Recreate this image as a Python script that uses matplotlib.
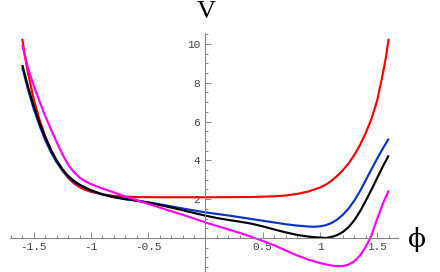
import matplotlib
matplotlib.use("Agg")
import matplotlib.pyplot as plt
from matplotlib.ticker import MultipleLocator, FixedLocator

# ---- data ----
red_phi = [-1.60, -1.575, -1.55, -1.50, -1.45, -1.40, -1.35, -1.30, -1.25, -1.20, -1.15, -1.10,
           -1.05, -1.00, -0.90, -0.80, -0.70, -0.60, -0.40, 0.00, 0.40, 0.60, 0.70, 0.80,
           0.90, 1.00, 1.05, 1.10, 1.15, 1.20, 1.25, 1.30, 1.35, 1.40, 1.45, 1.50, 1.55,
           1.575, 1.60]
red_V = [10.27, 9.3, 8.5, 7.15, 6.1, 5.25, 4.55, 3.95, 3.48, 3.1, 2.82, 2.62,
         2.48, 2.38, 2.25, 2.17, 2.13, 2.11, 2.1, 2.1, 2.11, 2.15, 2.19, 2.27,
         2.4, 2.6, 2.75, 2.95, 3.2, 3.5, 3.85, 4.28, 4.8, 5.42, 6.15, 7.1, 8.5,
         9.3, 10.27]

blue_phi = [-1.60, -1.55, -1.50, -1.45, -1.40, -1.35, -1.30, -1.25, -1.20, -1.15, -1.10, -1.05,
            -1.00, -0.90, -0.80, -0.70, -0.60, -0.50, -0.40, -0.30, -0.20, -0.10, 0.00, 0.10,
            0.20, 0.30, 0.40, 0.50, 0.60, 0.70, 0.80, 0.90, 0.95, 1.00, 1.05, 1.10, 1.15,
            1.20, 1.25, 1.30, 1.35, 1.40, 1.45, 1.50, 1.55, 1.60]
blue_V = [8.8, 7.65, 6.65, 5.8, 5.05, 4.42, 3.9, 3.48, 3.15, 2.9, 2.72, 2.57,
          2.44, 2.25, 2.11, 2.01, 1.93, 1.84, 1.74, 1.63, 1.52, 1.42, 1.32, 1.24,
          1.16, 1.07, 0.98, 0.89, 0.8, 0.71, 0.64, 0.59, 0.58, 0.6, 0.66, 0.77, 0.95,
          1.2, 1.52, 1.93, 2.42, 2.98, 3.55, 4.1, 4.63, 5.12]

black_phi = [-1.60, -1.55, -1.50, -1.45, -1.40, -1.35, -1.30, -1.25, -1.20, -1.15, -1.10, -1.05,
             -1.00, -0.90, -0.80, -0.70, -0.60, -0.50, -0.40, -0.30, -0.20, -0.10, 0.00, 0.10,
             0.20, 0.30, 0.40, 0.50, 0.60, 0.70, 0.80, 0.90, 1.00, 1.05, 1.10, 1.15, 1.20,
             1.25, 1.30, 1.35, 1.40, 1.45, 1.50, 1.55, 1.60]
black_V = [8.92, 7.8, 6.8, 5.95, 5.2, 4.55, 4.0, 3.55, 3.2, 2.95, 2.75, 2.6,
           2.46, 2.25, 2.1, 2.0, 1.92, 1.82, 1.7, 1.57, 1.43, 1.29, 1.15, 1.03,
           0.93, 0.84, 0.74, 0.6, 0.44, 0.29, 0.16, 0.07, 0.02, 0.0, 0.05, 0.15, 0.31,
           0.56, 0.92, 1.38, 1.92, 2.5, 3.1, 3.7, 4.26]

mag_phi = [-1.60, -1.55, -1.50, -1.45, -1.40, -1.35, -1.30, -1.25, -1.20, -1.15, -1.10, -1.05,
           -1.00, -0.95, -0.90, -0.80, -0.70, -0.60, -0.50, -0.40, -0.30, -0.20, -0.10, 0.00,
           0.10, 0.20, 0.30, 0.40, 0.50, 0.60, 0.70, 0.80, 0.90, 1.00, 1.05, 1.10, 1.15,
           1.20, 1.25, 1.30, 1.35, 1.40, 1.45, 1.50, 1.55, 1.60]
mag_V = [9.95, 8.75, 7.85, 7.05, 6.3, 5.6, 4.95, 4.32, 3.78, 3.4, 3.12, 2.92,
         2.78, 2.66, 2.55, 2.35, 2.14, 1.95, 1.76, 1.57, 1.38, 1.2, 1.0, 0.8,
         0.62, 0.44, 0.26, 0.06, -0.15, -0.38, -0.64, -0.9, -1.12, -1.29, -1.36, -1.42, -1.45,
         -1.45, -1.37, -1.2, -0.9, -0.45, 0.14, 1.0, 1.78, 2.45]

x_major = [-1.5, -1.0, -0.5, 0.5, 1.0, 1.5]
x_labels = ["-1.5", "-1", "-0.5", "0.5", "1", "1.5"]
y_major = [2, 4, 6, 8, 10]
y_labels = ["2", "4", "6", "8", "10"]

W, H = 440, 272
fig = plt.figure(figsize=(W / 100, H / 100), dpi=100)
ax = fig.add_axes([10 / W, 0.0, 388 / W, 239 / H])
ax.set_xlim(-1.7074, 1.6812)
ax.set_ylim(-1.753, 10.567)
ax.patch.set_alpha(0)

lw = 1.55
ax.plot(red_phi, red_V, color="#ff0000", lw=lw, solid_capstyle="butt", solid_joinstyle="round")
ax.plot(blue_phi, blue_V, color="#0a32c8", lw=lw, solid_capstyle="butt", solid_joinstyle="round")
ax.plot(black_phi, black_V, color="#000000", lw=lw, solid_capstyle="butt", solid_joinstyle="round")
ax.plot(mag_phi, mag_V, color="#ff00ff", lw=lw, solid_capstyle="butt", solid_joinstyle="round")

for s in ["top", "right"]:
    ax.spines[s].set_visible(False)
ax.spines["left"].set_position(("data", 0))
ax.spines["bottom"].set_position(("data", 0))
for s in ["left", "bottom"]:
    ax.spines[s].set_color("#888888")
    ax.spines[s].set_linewidth(0.8)

ax.xaxis.set_major_locator(FixedLocator(x_major))
ax.set_xticklabels(x_labels)
ax.xaxis.set_minor_locator(MultipleLocator(0.1))
ax.yaxis.set_major_locator(FixedLocator(y_major))
ax.set_yticklabels(y_labels)
ax.yaxis.set_minor_locator(MultipleLocator(0.5))

ax.tick_params(which="both", direction="in", color="#888888", width=0.7,
               labelcolor="#444444", labelsize=8)
ax.tick_params(which="major", length=4)
ax.tick_params(which="minor", length=2)
ax.tick_params(axis="x", pad=3)
ax.tick_params(axis="y", pad=4)
for lab in ax.get_xticklabels() + ax.get_yticklabels():
    lab.set_family("Liberation Mono")

fig.text(206.7 / W, 1 - 12 / H, "V", ha="center", va="center",
         family="Liberation Serif", fontsize=19)
fig.text(416.7 / W, 1 - 240 / H, "ϕ", ha="center", va="center",
         family="DejaVu Serif", fontsize=19)

fig.savefig("out.png", dpi=100, facecolor="white")
